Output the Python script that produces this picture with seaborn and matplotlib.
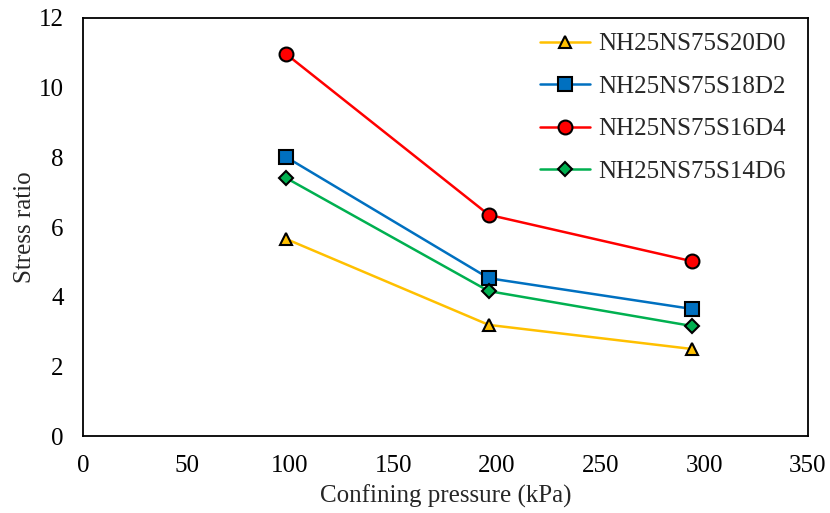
import matplotlib
matplotlib.use("Agg")
import matplotlib.pyplot as plt
import seaborn as sns
import pandas as pd

pressure = [98, 196, 294]
series_names = ["NH25NS75S20D0", "NH25NS75S18D2", "NH25NS75S16D4", "NH25NS75S14D6"]
s20d0 = [5.66, 3.19, 2.50]
s18d2 = [8.01, 4.53, 3.65]
s16d4 = [10.97, 6.35, 5.02]
s14d6 = [7.41, 4.16, 3.16]

colors = ["#FFC000", "#0070C0", "#FF0000", "#00B050"]
markers = ["^", "s", "o", "D"]
msizes = [9, 10, 10, 7]

rows = []
for name, vals in zip(series_names, [s20d0, s18d2, s16d4, s14d6]):
    for x, y in zip(pressure, vals):
        rows.append({"Confining pressure (kPa)": x, "Stress ratio": y, "Series": name})
df = pd.DataFrame(rows)

sns.set_theme(style="white")
plt.rcParams['font.family'] = ['Liberation Serif', 'DejaVu Serif']

fig = plt.figure(figsize=(8.3, 5.13), dpi=100)
ax = fig.add_axes([0.1, 0.15, 0.873, 0.815])

for name, c, m, ms in zip(series_names, colors, markers, msizes):
    sub = df[df["Series"] == name]
    sns.lineplot(data=sub, x="Confining pressure (kPa)", y="Stress ratio", ax=ax,
                 color=c, marker=m, markersize=ms, markeredgecolor="black",
                 markeredgewidth=1.5, linewidth=1.8, label=name)

ax.set_xlim(0, 350)
ax.set_ylim(0, 12)
ax.set_xticks(range(0, 351, 50))
ax.set_yticks(range(0, 13, 2))
ax.tick_params(direction="in", length=5, width=1.2, labelsize=18, colors="black")
ax.tick_params(axis="x", pad=14)
ax.tick_params(axis="y", pad=14)
for sp in ax.spines.values():
    sp.set_color("black")
    sp.set_linewidth(1.3)
ax.set_xlabel("Confining pressure (kPa)", fontsize=18, labelpad=5)
ax.set_ylabel("Stress ratio", fontsize=18, labelpad=2)
leg = ax.legend(loc="upper right", bbox_to_anchor=(0.99, 1.0), frameon=False, fontsize=18,
                handlelength=2.0, labelspacing=0.8, borderaxespad=0.4, borderpad=0.2,
                handletextpad=0.3)
fig.savefig("out.png", dpi=100)
